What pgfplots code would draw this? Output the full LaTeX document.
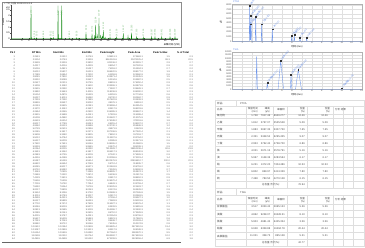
\documentclass[border=0pt]{standalone}
\usepackage{pgfplots}
\pgfplotsset{compat=1.18}
\usepackage{fontspec}
\setmainfont{Liberation Sans}
\newfontfamily\cjk{Noto Sans CJK SC}
\definecolor{gline}{RGB}{0,128,0}
\definecolor{glab}{RGB}{120,190,120}
\definecolor{bline}{RGB}{110,150,235}
\definecolor{blab}{RGB}{100,140,230}
\definecolor{tline}{RGB}{222,222,222}
\begin{document}
\begin{tikzpicture}[x=1pt,y=1pt]
\fill[white] (0,0) rectangle (365,-248);
\path[use as bounding box] (0,0) rectangle (365,-248);
\tikzset{tb/.style={font=\fontsize{2.3}{2.3}\selectfont, inner sep=0pt, text=black!62},
         th/.style={font=\bfseries\fontsize{2.5}{2.5}\selectfont, inner sep=0pt},
         rt/.style={font=\fontsize{2.6}{3.1}\selectfont, inner sep=0pt, text=black!70}}
% ---------------- left chromatogram ----------------
\draw[black!45, line width=0.3pt] (2,-2) rectangle (181,-47);
\node[anchor=west, inner sep=0pt, font=\fontsize{2.5}{2.5}\selectfont, text=black!75] at (4,-3.6) {+ TIC {\cjk 扫描} 20231201-3.d};
\node[rotate=90, inner sep=0pt, font=\fontsize{2.3}{2.3}\selectfont] at (3.3,-22) {Counts};
\node[anchor=east, inner sep=0pt, font=\fontsize{2.3}{2.3}\selectfont] at (11.5,-7.2) {x10\textsuperscript{7}};
\node[anchor=east, inner sep=0pt, font=\cjk\fontsize{2.3}{2.3}\selectfont] at (180,-44.6) {采集时间 (分钟)};
\begin{axis}[at={(11pt,-5pt)}, anchor=north west, scale only axis, width=167pt, height=34pt,
  xmin=-0.53, xmax=22.76, ymin=0, ymax=2.9,
  axis lines=left, axis line style={-, line width=0.3pt, black!70},
  xtick={1,...,22}, ytick={0,0.5,1,1.5,2,2.5},
  tick style={line width=0.25pt, black!70}, major tick length=1pt,
  tick label style={font=\fontsize{2.4}{2.4}\selectfont, inner sep=0.6pt},
  /pgf/number format/assume math mode=true, clip=false]
\addplot[gline, line width=0.3pt] coordinates {
(-0.53,0.01)
(2.22,0.015)(2.26,2.85)(2.31,0.02)
(2.68,0.015)(2.72,0.08)(2.76,0.015)
(3.01,0.015)(3.05,0.1)(3.09,0.015)
(3.93,0.015)(3.97,0.08)(4.01,0.015)
(4.97,0.015)(5.01,0.1)(5.05,0.015)
(5.33,0.015)(5.37,0.12)(5.41,0.015)
(5.99,0.015)(6.03,2.85)(6.08,0.03)
(6.50,0.03)(6.54,2.85)(6.59,0.02)
(7.56,0.015)(7.60,0.08)(7.64,0.015)
(8.59,0.015)(8.63,0.1)(8.67,0.015)
(8.91,0.015)(8.95,0.06)(8.99,0.015)
(9.89,0.015)(9.93,0.6)(9.97,0.015)
(10.73,0.02)(10.77,0.45)(10.81,0.03)
(11.1,0.05)(11.15,0.25)(11.2,0.05)
(11.24,0.05)(11.28,1.2)(11.32,0.06)
(11.45,0.08)(11.5,0.3)(11.55,0.07)
(11.7,0.07)(11.74,1.8)(11.78,0.08)
(11.94,0.06)(11.98,0.35)(12.02,0.06)
(12.15,0.05)(12.2,0.2)(12.25,0.04)
(12.3,0.04)(12.34,0.75)(12.38,0.04)
(12.55,0.03)(12.6,0.15)(12.65,0.02)
(13.24,0.015)(13.28,0.15)(13.32,0.015)
(14.17,0.015)(14.21,0.15)(14.25,0.015)
(15.09,0.015)(15.13,0.5)(15.17,0.015)
(15.75,0.015)(15.79,0.25)(15.83,0.015)
(16.24,0.015)(16.28,0.55)(16.32,0.015)
(16.96,0.015)(17.0,0.2)(17.04,0.015)
(17.88,0.015)(17.92,0.15)(17.96,0.015)
(19.05,0.015)(19.09,0.2)(19.13,0.015)
(19.51,0.015)(19.55,0.2)(19.59,0.015)
(20.45,0.015)(20.49,0.2)(20.53,0.015)
(21.61,0.015)(21.65,0.2)(21.69,0.015)
(22.30,0.015)(22.34,0.2)(22.38,0.015)
(22.76,0.01)};
\addplot[draw=none, nodes near coords, point meta=explicit symbolic,
  every node near coord/.append style={font=\fontsize{2.2}{2.2}\selectfont, text=glab, rotate=90, anchor=west, inner sep=0.3pt}]
  table[meta=l]{
x y l
2.26 1.95 2.259
2.72 0.12 2.718
3.05 0.14 3.052
3.97 0.12 3.968
5.01 0.14 5.012
5.37 0.16 5.371
6.03 1.95 6.027
6.54 1.95 6.541
7.60 0.12 7.603
8.63 0.14 8.628
9.93 0.64 9.931
10.77 0.49 10.772
11.28 1.24 11.284
11.74 1.84 11.739
12.34 0.79 12.342
13.28 0.19 13.281
14.21 0.19 14.206
15.13 0.54 15.127
16.28 0.59 16.283
17.00 0.24 17.003
17.92 0.19 17.918
19.09 0.24 19.087
19.55 0.24 19.552
20.49 0.24 20.491
21.65 0.24 21.648
22.34 0.24 22.339
};
\end{axis}
% ---------------- left table ----------------
\node[th,anchor=west] at (10,-52.6) {Pk \#};
\node[th,anchor=west] at (32,-52.6) {RT Min};
\node[th,anchor=west] at (53,-52.6) {Start Min};
\node[th,anchor=west] at (82,-52.6) {End Min};
\node[th,anchor=west] at (100,-52.6) {Peak Height};
\node[th,anchor=west] at (128,-52.6) {Peak Area};
\node[th,anchor=west] at (153,-52.6) {Peak \% Max};
\node[th,anchor=west] at (177,-52.6) {\% of Total};
\foreach \cA/\cB/\cC/\cD/\cE/\cF/\cG/\cH [count=\i] in {
1/2.2591/2.2412/2.2763/129811.3/274663.1/1.5/0.3,
2/2.3104/2.2763/2.3318/8562341.6/20471125.4/98.3/22.5,
3/2.3528/2.3318/2.3802/241136.2/602515.7/2.9/0.7,
4/2.4217/2.4016/2.4439/98254.7/187320.6/0.9/0.2,
5/2.5036/2.4821/2.5247/75318.2/151904.3/0.7/0.2,
6/2.6012/2.5807/2.6231/186420.5/398177.2/1.9/0.4,
7/2.7189/2.6954/2.7402/61259.8/123560.9/0.6/0.1,
8/2.8045/2.7830/2.8263/143871.4/301245.5/1.5/0.3,
9/2.9310/2.9088/2.9527/52134.6/104987.3/0.5/0.1,
10/3.0527/3.0301/3.0745/88419.3/176250.4/0.9/0.2,
11/3.1408/3.1182/3.1630/233906.1/541873.8/2.6/0.6,
12/3.2615/3.2390/3.2841/71502.7/139628.1/0.7/0.2,
13/3.3892/3.3663/3.4115/118236.9/246390.2/1.2/0.3,
14/3.5104/3.4876/3.5329/64218.5/127744.6/0.6/0.1,
15/3.6237/3.6011/3.6460/95730.2/190562.7/0.9/0.2,
16/3.7419/3.7190/3.7645/157622.8/331408.3/1.6/0.4,
17/3.8826/3.8597/3.9052/48376.1/96551.2/0.5/0.1,
18/4.0153/3.9925/4.0381/209558.4/462914.5/2.3/0.5,
19/4.1370/4.1142/4.1597/83417.9/168203.6/0.8/0.2,
20/4.2694/4.2465/4.2920/136285.3/289467.1/1.4/0.3,
21/4.3915/4.3688/4.4141/57903.6/115288.4/0.6/0.1,
22/4.5208/4.4980/4.5434/104622.7/213075.9/1.0/0.2,
23/4.6533/4.6304/4.6760/176348.2/372119.6/1.8/0.4,
24/4.8017/4.7789/4.8243/69215.4/138307.2/0.7/0.2,
25/4.9362/4.9133/4.9588/122740.1/255846.3/1.2/0.3,
26/5.0729/5.0501/5.0956/45871.9/91623.8/0.4/0.1,
27/5.2145/5.1917/5.2371/197336.5/427520.4/2.1/0.5,
28/5.3608/5.3380/5.3835/78452.3/157118.7/0.8/0.2,
29/5.5012/5.4784/5.5239/113907.6/232764.2/1.1/0.3,
30/5.6437/5.6209/5.6663/62385.8/124471.9/0.6/0.1,
31/5.7920/5.7691/5.8146/148265.2/310582.5/1.5/0.3,
32/5.9318/5.9090/5.9545/91470.4/185039.1/0.9/0.2,
33/6.0264/6.0035/6.0490/7913528.7/19850236.4/92.6/21.8,
34/6.1591/6.1362/6.1817/265417.3/598340.8/3.0/0.7,
35/6.2983/6.2755/6.3209/87342.1/175926.3/0.9/0.2,
36/6.4416/6.4188/6.4642/132058.6/274301.4/1.4/0.3,
37/6.5387/6.5159/6.5614/8120476.9/20836412.7/100.0/22.9,
38/6.6822/6.6594/6.7048/59712.4/118935.7/0.6/0.1,
39/6.8245/6.8017/6.8471/101463.8/206718.2/1.0/0.2,
40/6.9710/6.9482/6.9936/74128.5/149260.9/0.7/0.2,
41/7.1163/7.0935/7.1389/168905.7/353874.1/1.7/0.4,
42/7.2648/7.2420/7.2874/55236.9/110417.6/0.5/0.1,
43/7.4129/7.3901/7.4355/93817.2/188452.3/0.9/0.2,
44/7.5536/7.5308/7.5762/126570.4/262938.5/1.2/0.3,
45/7.7018/7.6790/7.7244/66843.1/133759.4/0.7/0.1,
46/7.8492/7.8264/7.8718/109325.8/221603.7/1.1/0.2,
47/8.0037/7.9809/8.0263/81274.6/163428.2/0.8/0.2,
48/8.1524/8.1296/8.1750/142698.3/297165.8/1.5/0.3,
49/8.3011/8.2783/8.3237/50417.2/100963.5/0.5/0.1,
50/8.4559/8.4331/8.4785/97156.4/195527.1/1.0/0.2,
51/8.6127/8.5899/8.6353/72683.9/145301.6/0.7/0.2,
52/8.7702/8.7474/8.7928/115927.1/238076.4/1.1/0.3,
53/8.9246/8.9018/8.9472/63409.5/126815.8/0.6/0.1,
54/9.0813/9.0585/9.1039/154286.7/321490.3/1.6/0.4,
55/9.2389/9.2161/9.2615/86710.2/173528.9/0.9/0.2,
56/9.4015/9.3787/9.4241/120354.8/249706.2/1.2/0.3,
57/9.5637/9.5409/9.5863/58921.3/117862.5/0.6/0.1,
58/9.7291/9.7063/9.7517/99638.7/200193.4/1.0/0.2,
59/9.8940/9.8712/9.9166/76245.6/152374.8/0.8/0.2,
60/10.0612/10.0384/10.0838/1306825.4/2873412.6/13.4/3.2,
61/10.3087/10.2859/10.3313/84517.9/169048.3/0.8/0.2,
62/10.6154/10.5926/10.6380/927364.2/1983570.1/9.5/2.2,
63/11.0538/11.0310/11.0764/1184592.7/2476931.8/12.2/2.7,
64/11.4926/11.4698/11.5152/673208.5/1428156.4/6.9/1.6}{
  \pgfmathsetmacro\yy{-57-2.88*(\i-1)}
  \node[tb,anchor=east] at (15,\yy) {\cA};
  \node[tb,anchor=east] at (40,\yy) {\cB};
  \node[tb,anchor=east] at (67,\yy) {\cC};
  \node[tb,anchor=east] at (93,\yy) {\cD};
  \node[tb,anchor=east] at (117,\yy) {\cE};
  \node[tb,anchor=east] at (143,\yy) {\cF};
  \node[tb,anchor=east] at (170,\yy) {\cG};
  \node[tb,anchor=east] at (193,\yy) {\cH};
}
\draw[black!60, line width=0.35pt] (2,-242) -- (181,-242);
% ---------------- right charts ----------------
\pgfplotsset{rstyle/.style={scale only axis, width=129.4pt, height=37.3pt, xmin=0, xmax=13, ymin=0,
  xtick={1,...,13}, grid=major, grid style={line width=0.2pt, black!12},
  axis line style={line width=0.3pt, black!30}, major tick length=0pt,
  tick label style={font=\fontsize{2.3}{2.3}\selectfont, text=black!70, inner sep=0.6pt},
  scaled y ticks=false, /pgf/number format/1000 sep={}, /pgf/number format/assume math mode=true,
  clip=false}}
\node[anchor=west, inner sep=0pt, font=\fontsize{2.4}{2.4}\selectfont, text=blab] at (233,-1.4) {PTFA};
\begin{axis}[rstyle, at={(232.3pt,-4pt)}, anchor=north west, ymax=8200, ytick={0,1000,...,8000}]
\addplot[bline, line width=0.35pt] coordinates {
(0,0)(1.70,0)(1.748,7900)(1.78,200)(1.812,3760)(1.84,300)(1.883,5700)(1.93,0)
(2.30,0)(2.351,5350)(2.40,0)(2.90,0)(2.953,3760)(3.0,0)(3.97,0)(4.021,2670)(4.07,0)
(5.92,0)(5.967,1150)(6.01,0)(6.18,0)(6.231,1370)(6.28,0)(6.75,0)(6.802,870)(6.85,0)
(7.42,0)(7.468,780)(7.52,0)(13,0)};
\addplot[only marks, mark=square*, mark size=0.4pt, mark options={fill=black!80, draw=black!80},
  nodes near coords, point meta=explicit symbolic,
  every node near coord/.append style={font=\cjk\fontsize{2.1}{2.1}\selectfont, text=blab, rotate=50, anchor=west, inner sep=0.6pt}]
  table[meta=l]{
x y l
1.748 7900 1~氟化物~1.748
1.812 3760 2~乙酸~1.812
1.883 5700 3~甲酸~1.883
2.351 5350 4~丙酸~2.351
2.953 3760 5~丁酸~2.953
4.021 2670 6~氯~4.021
5.967 1150 7~溴~5.967
6.231 1370 8~硝~6.231
6.802 870 9~磷~6.802
7.468 780 10~硫~7.468
};
\end{axis}
\node[rotate=90, inner sep=0pt, font=\fontsize{2.5}{2.5}\selectfont] at (221,-22) {μS};
\node[inner sep=0pt, font=\cjk\fontsize{2.4}{2.4}\selectfont] at (297,-46.8) {时间 (min)};
\node[anchor=west, inner sep=0pt, font=\fontsize{2.4}{2.4}\selectfont, text=blab] at (233,-49.6) {TSIA};
\begin{axis}[rstyle, at={(232.3pt,-52pt)}, anchor=north west, ymax=12000, ytick={0,1000,...,12000}]
\addplot[bline, line width=0.35pt] coordinates {
(0,0)(2.38,0)(2.45,10600)(2.52,0)(3.45,0)(3.517,2050)(3.6,0)(4.6,0)(4.862,9240)(5.15,0)
(5.82,0)(5.903,4680)(5.98,0)(6.35,0)(6.628,6360)(6.95,0)(10.95,0)(11.021,360)(11.1,0)(13,0)};
\addplot[only marks, mark=square*, mark size=0.4pt, mark options={fill=black!80, draw=black!80},
  nodes near coords, point meta=explicit symbolic,
  every node near coord/.append style={font=\cjk\fontsize{2.1}{2.1}\selectfont, text=blab, rotate=50, anchor=west, inner sep=0.6pt}]
  table[meta=l]{
x y l
3.517 2050 1~亚氯酸盐~3.517
4.862 9240 2~溴酸~4.862
5.903 4680 3~氯酸~5.903
6.628 6360 4~硝酸~6.628
11.021 360 5~高氯酸盐~11.021
};
\end{axis}
\node[rotate=90, inner sep=0pt, font=\fontsize{2.5}{2.5}\selectfont] at (220.5,-70) {μS};
\node[inner sep=0pt, font=\cjk\fontsize{2.4}{2.4}\selectfont] at (297,-95) {时间 (min)};
% ---------------- right table 1 ----------------
\foreach \yy in {100.3,106,114,118.5,125.5,132.5,139.5,146.5,153.5,160.5,167.5,174.5,181.5,188.5,195.5,204,210.3,217.6,225,232.3,239.5,246}
  \draw[tline, line width=0.2pt] (215,-\yy) -- (364.5,-\yy);
\foreach \xx in {215,246,273,287,307,333,343,353,364.5}{
  \draw[tline, line width=0.2pt] (\xx,-106) -- (\xx,-188.5);
  \draw[tline, line width=0.2pt] (\xx,-195.5) -- (\xx,-246);}
\draw[tline, line width=0.2pt] (215,-100.3) -- (215,-106) (236,-100.3) -- (236,-106) (364.5,-100.3) -- (364.5,-106);
\draw[tline, line width=0.2pt] (215,-188.5) -- (215,-195.5) (236,-188.5) -- (236,-195.5) (364.5,-188.5) -- (364.5,-195.5);
\node[rt, anchor=west, font=\cjk\fontsize{2.6}{3.1}\selectfont] at (217,-103.2) {样品:};
\node[rt, anchor=west] at (240,-103.2) {PTFA};
\node[rt, anchor=west, font=\cjk\fontsize{2.6}{3.1}\selectfont] at (217,-110) {名称};
\node[rt, anchor=east, align=right, font=\cjk\fontsize{2.5}{3}\selectfont] at (258,-110) {保留时间\\(min)};
\node[rt, anchor=east, align=right, font=\cjk\fontsize{2.5}{3}\selectfont] at (270,-110) {峰高\\(μS)};
\node[rt, anchor=east, align=right, font=\cjk\fontsize{2.5}{3}\selectfont] at (285,-110) {峰面积};
\node[rt, anchor=east, align=right, font=\cjk\fontsize{2.5}{3}\selectfont] at (305,-110) {含量\\(\%)};
\node[rt, anchor=east, align=right, font=\cjk\fontsize{2.5}{3}\selectfont] at (330,-110) {含量\\(\%)};
\node[rt, anchor=west, font=\cjk\fontsize{2.5}{3}\selectfont] at (335,-110) {分析 结果};
\foreach \cA/\cB/\cC/\cD/\cE/\cF [count=\i] in {
氟化物/1.748/7917.46/8640.277/12.46/12.46,
乙酸/1.812/3767.07/3535.528/5.09/5.09,
甲酸/1.883/5697.35/5307.750/7.65/7.65,
丙酸/2.351/5348.52/6295.455/9.07/9.07,
丁酸/2.953/3762.42/4758.700/6.86/6.86,
氯/4.021/2671.15/3578.791/5.16/5.16,
溴/5.967/1148.36/4283.564/6.17/6.17,
硝/6.231/1372.20/7304.486/10.53/10.53,
磷/6.802/869.97/5413.339/7.80/7.80,
硫/7.468/783.50/4270.128/6.15/6.15}{
  \pgfmathsetmacro\yy{-115.6-7*(\i-1)}
  \node[rt, anchor=west] at (217,\yy) {\cjk\cA};
  \node[rt, anchor=east] at (258,\yy) {\cB};
  \node[rt, anchor=east] at (270.5,\yy) {\cC};
  \node[rt, anchor=east] at (285,\yy) {\cD};
  \node[rt, anchor=east] at (305,\yy) {\cE};
  \node[rt, anchor=east] at (328,\yy) {\cF};
}
\node[rt, anchor=west, font=\cjk\fontsize{2.5}{3}\selectfont] at (262,-185) {总含量 合计(\%):};
\node[rt, anchor=east] at (305,-185) {76.94};
% ---------------- right table 2 ----------------
\node[rt, anchor=west, font=\cjk\fontsize{2.6}{3.1}\selectfont] at (217,-192.3) {样品:};
\node[rt, anchor=west] at (240,-192.3) {TSIA};
\node[rt, anchor=west, font=\cjk\fontsize{2.6}{3.1}\selectfont] at (217,-199.8) {名称};
\node[rt, anchor=east, align=right, font=\cjk\fontsize{2.5}{3}\selectfont] at (258,-199.8) {保留时间\\(min)};
\node[rt, anchor=east, align=right, font=\cjk\fontsize{2.5}{3}\selectfont] at (270,-199.8) {峰高\\(μS)};
\node[rt, anchor=east, align=right, font=\cjk\fontsize{2.5}{3}\selectfont] at (285,-199.8) {峰面积};
\node[rt, anchor=east, align=right, font=\cjk\fontsize{2.5}{3}\selectfont] at (305,-199.8) {含量\\(\%)};
\node[rt, anchor=east, align=right, font=\cjk\fontsize{2.5}{3}\selectfont] at (330,-199.8) {含量\\(\%)};
\node[rt, anchor=west, font=\cjk\fontsize{2.5}{3}\selectfont] at (335,-199.8) {分析 结果};
\foreach \cA/\cB/\cC/\cD/\cE/\cF [count=\i] in {
亚氯酸盐/3.517/2050.42/2695.133/5.36/5.36,
溴酸/4.862/9238.07/20428.51/8.10/8.10,
氯酸/5.903/4681.42/6425.354/3.56/3.56,
硝酸/6.628/6359.88/16294.78/20.44/20.44,
高氯酸盐/11.021/358.73/895.128/5.31/5.31}{
  \pgfmathsetmacro\yy{-206.9-7.3*(\i-1)}
  \node[rt, anchor=west] at (217,\yy) {\cjk\cA};
  \node[rt, anchor=east] at (258,\yy) {\cB};
  \node[rt, anchor=east] at (270.5,\yy) {\cC};
  \node[rt, anchor=east] at (285,\yy) {\cD};
  \node[rt, anchor=east] at (305,\yy) {\cE};
  \node[rt, anchor=east] at (328,\yy) {\cF};
}
\node[rt, anchor=west, font=\cjk\fontsize{2.5}{3}\selectfont] at (262,-242.8) {总含量 合计(\%):};
\node[rt, anchor=east] at (305,-242.8) {42.77};
\end{tikzpicture}
\end{document}
